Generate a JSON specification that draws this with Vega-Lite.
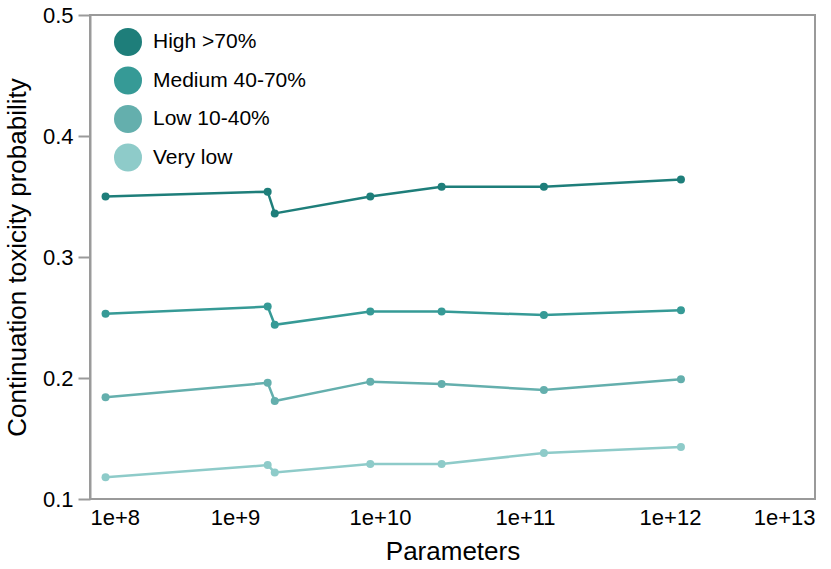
{
  "$schema": "https://vega.github.io/schema/vega-lite/v6.json",
  "width": 725,
  "height": 484,
  "autosize": {"type": "none"},
  "padding": {"left": 90, "top": 15, "right": 16, "bottom": 70},
  "background": "white",
  "config": {
    "font": "Liberation Sans",
    "view": {"stroke": "#9a9a9a", "strokeWidth": 2},
    "axis": {
      "grid": false,
      "labelFont": "Liberation Sans",
      "titleFont": "Liberation Sans",
      "labelFontSize": 22,
      "titleFontSize": 26,
      "titleFontWeight": "normal",
      "labelColor": "#000000",
      "titleColor": "#000000",
      "domainColor": "#9a9a9a",
      "domainWidth": 2,
      "tickColor": "#9a9a9a",
      "tickWidth": 2
    },
    "legend": {
      "labelFont": "Liberation Sans",
      "labelFontSize": 21,
      "labelColor": "#000000"
    }
  },
  "data": {
    "values": [
      {"params": 1.28e8, "prob": 0.350, "category": "High >70%"},
      {"params": 1.68e9, "prob": 0.354, "category": "High >70%"},
      {"params": 1.88e9, "prob": 0.336, "category": "High >70%"},
      {"params": 8.57e9, "prob": 0.350, "category": "High >70%"},
      {"params": 2.66e10, "prob": 0.358, "category": "High >70%"},
      {"params": 1.35e11, "prob": 0.358, "category": "High >70%"},
      {"params": 1.19e12, "prob": 0.364, "category": "High >70%"},
      {"params": 1.28e8, "prob": 0.253, "category": "Medium 40-70%"},
      {"params": 1.68e9, "prob": 0.259, "category": "Medium 40-70%"},
      {"params": 1.88e9, "prob": 0.244, "category": "Medium 40-70%"},
      {"params": 8.57e9, "prob": 0.255, "category": "Medium 40-70%"},
      {"params": 2.66e10, "prob": 0.255, "category": "Medium 40-70%"},
      {"params": 1.35e11, "prob": 0.252, "category": "Medium 40-70%"},
      {"params": 1.19e12, "prob": 0.256, "category": "Medium 40-70%"},
      {"params": 1.28e8, "prob": 0.184, "category": "Low 10-40%"},
      {"params": 1.68e9, "prob": 0.196, "category": "Low 10-40%"},
      {"params": 1.88e9, "prob": 0.181, "category": "Low 10-40%"},
      {"params": 8.57e9, "prob": 0.197, "category": "Low 10-40%"},
      {"params": 2.66e10, "prob": 0.195, "category": "Low 10-40%"},
      {"params": 1.35e11, "prob": 0.190, "category": "Low 10-40%"},
      {"params": 1.19e12, "prob": 0.199, "category": "Low 10-40%"},
      {"params": 1.28e8, "prob": 0.118, "category": "Very low"},
      {"params": 1.68e9, "prob": 0.128, "category": "Very low"},
      {"params": 1.88e9, "prob": 0.122, "category": "Very low"},
      {"params": 8.57e9, "prob": 0.129, "category": "Very low"},
      {"params": 2.66e10, "prob": 0.129, "category": "Very low"},
      {"params": 1.35e11, "prob": 0.138, "category": "Very low"},
      {"params": 1.19e12, "prob": 0.143, "category": "Very low"}
    ]
  },
  "encoding": {
    "x": {
      "field": "params",
      "type": "quantitative",
      "scale": {"type": "log", "domain": [1e8, 1e13], "nice": false},
      "axis": {
        "title": "Parameters",
        "values": [1e8, 1e9, 1e10, 1e11, 1e12, 1e13],
        "labelExpr": "'1e+' + round(log(datum.value) / LN10)",
        "labelFlush": true,
        "ticks": false,
        "domain": false,
        "labelPadding": 8,
        "titlePadding": 10
      }
    },
    "y": {
      "field": "prob",
      "type": "quantitative",
      "scale": {"domain": [0.1, 0.5], "nice": false, "zero": false},
      "axis": {
        "title": "Continuation toxicity probability",
        "values": [0.1, 0.2, 0.3, 0.4, 0.5],
        "format": ".1f",
        "labelFlush": false,
        "tickSize": 12,
        "labelPadding": 5,
        "titlePadding": 12
      }
    },
    "color": {
      "field": "category",
      "type": "nominal",
      "scale": {
        "domain": ["High >70%", "Medium 40-70%", "Low 10-40%", "Very low"],
        "range": ["#1e7e7a", "#369a96", "#64afad", "#8ecbc9"]
      },
      "legend": {
        "title": null,
        "orient": "none",
        "legendX": 24,
        "legendY": 13,
        "symbolType": "circle",
        "symbolSize": 784,
        "symbolStrokeWidth": 0,
        "symbolOpacity": 1,
        "labelOffset": 11,
        "rowPadding": 10.5,
        "padding": 0
      }
    }
  },
  "layer": [
    {"mark": {"type": "line", "strokeWidth": 2.5}},
    {"mark": {"type": "circle", "size": 64, "opacity": 1}}
  ]
}
